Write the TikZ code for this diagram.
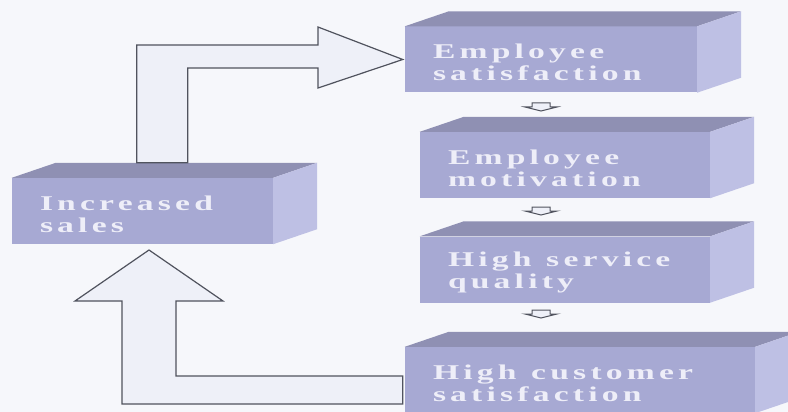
\documentclass[tikz,border=0pt]{standalone}
\usepackage{fontspec}
\newfontfamily\boxfont[FakeStretch=1.6,LetterSpace=20]{Liberation Serif}
\usetikzlibrary{calc}

\definecolor{bgtint}{RGB}{246,247,251}
\definecolor{facefront}{RGB}{167,169,211}
\definecolor{facetop}{RGB}{143,144,179}
\definecolor{faceside}{RGB}{190,192,228}
\definecolor{facetext}{RGB}{238,238,248}
\definecolor{arrowfill}{RGB}{238,240,248}
\definecolor{arrowline}{RGB}{80,83,94}

\tikzset{
  cubefront/.style={fill=facefront, text=facetext,
    font={\boxfont\bfseries\fontsize{21pt}{22pt}\selectfont},
    align=left, inner xsep=28pt, inner ysep=0pt, minimum height=66pt, text height=21pt},
  blockarrow/.style={fill=arrowfill, draw=arrowline, line width=1.2pt, line join=miter},
}

% top and right side of a box
\newcommand{\cubefaces}[1]{%
  \fill[facetop] (#1.north west) -- ++(44,-15) -- ($(#1.north east)+(44,-15)$) -- (#1.north east) -- cycle;
  \fill[faceside] (#1.north east) -- ++(44,-15) -- ($(#1.south east)+(44,-15)$) -- (#1.south east) -- cycle;
}
% small arrow between two boxes
\newcommand{\smalldown}[1]{%
  \draw[blockarrow, line width=1pt] ($(#1)+(-9,-4)$) -- ++(0,4) -- ++(-7,0) -- ++(16,4) -- ++(16,-4) -- ++(-7,0) -- ++(0,-4) -- cycle;
}
\newcommand{\gap}{\hspace{0.7em}}

\begin{document}
\begin{tikzpicture}[x=1pt,y=-1pt]
  \useasboundingbox (0,0) rectangle (788,412);
  \clip (0,0) rectangle (788,412);
  \fill[bgtint] (0,0) rectangle (788,412);

  % boxes
  \node[cubefront, text width=205pt] (sales) at (142.5,211) {Increased\\sales};
  \node[cubefront, text width=236pt] (empsat) at (551,59.5) {Employee\\satisfaction};
  \node[cubefront, text width=234pt] (empmot) at (565,165) {Employee\\motivation};
  \node[cubefront, text width=234pt] (quality) at (565,269.5) {High\gap service\\quality};
  \node[cubefront, text width=294pt] (custsat) at (580,380) {High\gap customer\\satisfaction};
  \foreach \b in {sales,empsat,empmot,quality,custsat}{\cubefaces{\b}}

  % small arrows down the column
  \coordinate (d1) at (541,107);
  \coordinate (d2) at (541,211);
  \coordinate (d3) at (541,314);
  \smalldown{d1}
  \smalldown{d2}
  \smalldown{d3}

  % big arrows
  \draw[blockarrow] ($(sales.north west)+(125,-15)$) |- (318,45) -- (318,27) -- ([xshift=-2pt]empsat.west)
    -- (318,88) -- (318,68) -| ($(sales.north west)+(176,-15)$) -- cycle;
  \draw[blockarrow] ([xshift=-2pt]custsat.west |- 0,376) -- (176,376) -- (176,301) -- (223,301) -- (149,250)
    -- (75,301) -- (122,301) -- (122,404) -- ([xshift=-2pt]custsat.west |- 0,404) -- cycle;
\end{tikzpicture}
\end{document}
